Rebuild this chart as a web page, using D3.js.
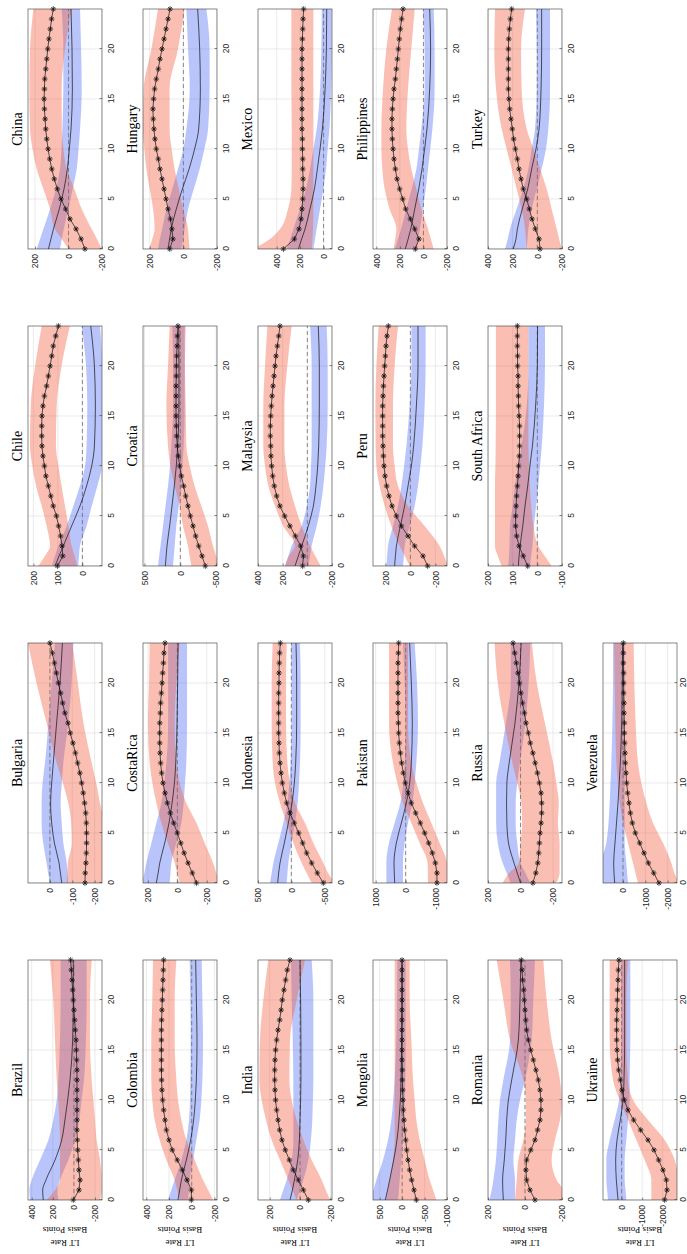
<!DOCTYPE html>
<html><head><meta charset="utf-8">
<script src="https://cdn.jsdelivr.net/npm/d3@7"></script>
<style>body{margin:0;background:#fff}svg{display:block}</style>
</head><body>
<script>
const countries = ["Brazil","Bulgaria","Chile","China","Colombia","CostaRica","Croatia","Hungary","India","Indonesia","Malaysia","Mexico","Mongolia","Pakistan","Peru","Philippines","Romania","Russia","South Africa","Turkey","Ukraine","Venezuela"];
const horizon = d3.range(0, 25);
const bandT = [0,1,2,4,6,8,10,12,16,20,24];
const xTicks = [0,5,10,15,20];
const yDomains = [[-266,435],[-233,98],[-80,222],[-200,242],[-223,429],[-270,234],[-512,521],[-200,240],[-211,277],[-610,500],[-200,400],[-72,560],[-1000,650],[-1378,1089],[-293,299],[-200,428],[-200,200],[-255,200],[-100,200],[-200,400],[-2700,910],[-2418,895]];
const yTicks = [[-200,0,200,400],[-200,-100,0],[0,100,200],[-200,0,200],[-200,0,200,400],[-200,0,200],[-500,0,500],[-200,0,200],[-200,0,200],[-500,0,500],[-200,0,200,400],[0,200,400],[-1000,-500,0,500],[-1000,0,1000],[-200,0,200],[-200,0,200,400],[-200,0,200],[-200,0,200],[-100,0,100,200],[-200,0,200,400],[-2000,-1000,0],[-2000,-1000,0]];

const starLine = [
[6,-48,-58,-48,-42,-36,-32,-29,-29,-29,-29,-29,-29,-29,-26,-23,-20,-13,-7,0,6,12,18,25,31],
[-157,-158,-161,-163,-164,-164,-163,-160,-155,-149,-142,-134,-124,-114,-103,-91,-81,-67,-57,-48,-38,-29,-20,-11,0],
[102,80,83,89,97,106,119,129,139,149,155,161,165,166,166,165,161,155,146,139,132,125,119,109,98],
[-98,-75,-45,-9,17,45,67,85,100,112,122,130,136,140,144,146,144,142,136,130,124,117,109,101,91],
[3,3,41,82,127,171,200,223,235,247,256,262,265,267,267,267,267,267,265,262,259,256,253,250,247],
[-130,-102,-73,-46,-23,0,25,48,68,84,98,107,114,118,120,120,120,116,114,109,104,100,95,91,84],
[-349,-303,-256,-214,-177,-140,-107,-75,-47,-14,9,28,42,51,56,60,60,60,60,56,56,51,46,42,33],
[81,62,68,77,91,103,115,127,139,149,161,169,175,179,181,177,171,161,149,139,127,115,103,91,79],
[-55,-22,11,44,70,97,119,134,145,154,161,165,167,167,165,161,154,145,134,125,117,106,95,84,66],
[-480,-390,-305,-230,-170,-110,-45,20,70,105,135,155,170,180,185,190,190,190,190,190,185,185,180,175,165],
[38,32,54,97,141,184,222,249,268,281,289,295,297,300,300,297,292,286,278,270,262,254,243,232,222],
[343,249,210,192,184,178,175,175,178,178,181,181,184,184,184,184,184,184,184,184,184,181,178,175,170],
[-317,-264,-212,-168,-131,-101,-79,-56,-41,-26,-19,-12,-4,-4,3,3,3,3,3,3,3,3,3,3,3],
[-1044,-1044,-989,-889,-767,-633,-489,-333,-189,-78,11,78,133,178,211,233,244,256,256,256,256,256,256,244,233],
[-138,-101,-34,19,72,112,147,171,190,203,211,216,219,222,222,222,222,219,216,211,206,200,195,187,176],
[69,38,74,111,151,176,202,224,238,250,258,264,267,267,264,258,250,238,230,221,213,205,196,185,173],
[-54,-27,-9,-5,-9,-31,-54,-68,-81,-86,-86,-81,-72,-59,-45,-31,-18,-9,-4,0,4,7,13,16,20],
[-76,-94,-106,-112,-116,-120,-126,-130,-130,-126,-116,-104,-90,-76,-60,-48,-34,-24,-12,-2,6,16,26,36,46],
[39,57,74,84,88,88,86,84,81,78,76,73,72,72,72,74,76,77,78,78,80,80,81,81,81],
[-22,-14,16,43,65,86,114,132,149,162,178,192,203,214,224,230,235,235,235,235,235,232,227,219,208],
[-2098,-2212,-2180,-2017,-1805,-1578,-1285,-927,-586,-310,-131,-17,65,146,195,227,243,243,243,227,211,195,178,162,130],
[-1612,-1374,-1135,-941,-747,-553,-418,-329,-269,-209,-165,-135,-105,-90,-75,-60,-60,-45,-45,-30,-30,-30,-15,-15,-15]
];

const redHi = [
[258,179,132,132,132,138,148,163,179,195,227],
[-75,-77,-80,-98,-95,-82,-58,-30,15,60,98],
[180,153,132,146,166,189,204,214,211,193,166],
[1,40,81,110,150,190,215,230,234,230,210],
[106,128,150,223,282,326,347,356,356,347,341],
[-16,1,18,64,109,143,170,189,200,193,189],
[-154,-130,-107,-37,9,79,139,172,195,172,149],
[204,185,171,180,200,220,232,240,236,190,151],
[22,50,77,132,187,224,253,268,264,242,209],
[-305,-230,-155,-30,70,170,245,280,295,295,280],
[181,150,100,195,262,316,343,357,357,343,324],
[600,457,372,304,275,272,272,272,275,275,275],
[353,315,278,204,167,167,167,167,167,167,167],
[-744,-740,-730,-467,-189,89,278,422,556,556,556],
[6,45,86,152,206,246,272,278,280,272,254],
[253,240,230,287,329,349,357,357,343,315,267],
[54,50,45,36,9,-5,-5,9,81,117,153],
[110,70,10,0,-10,-5,20,50,100,140,160],
[145,160,172,172,172,172,170,169,168,168,168],
[86,93,100,127,168,208,249,289,335,349,343],
[-1448,-1448,-1448,-1122,-716,-310,97,422,585,585,585],
[-672,-560,-448,-224,0,149,224,298,343,373,403]
];
const redLo = [
[-247,-263,-263,-247,-215,-200,-184,-168,-152,-152,-168],
[-240,-240,-240,-240,-240,-224,-207,-187,-150,-125,-100],
[21,32,44,57,71,85,98,108,105,85,51],
[-198,-170,-138,-79,-35,11,30,40,41,21,-19],
[-188,-145,-100,-26,47,91,121,135,150,150,135],
[-280,-265,-243,-186,-130,-61,-16,7,18,7,-16],
[-540,-500,-456,-386,-293,-200,-130,-84,-75,-65,-75],
[-37,-32,-28,2,27,52,70,82,82,32,-8],
[-198,-170,-143,-77,-22,22,55,70,66,22,-33],
[-650,-550,-480,-330,-205,-55,20,60,80,80,70],
[-108,-65,-22,46,100,146,173,186,186,162,127],
[101,95,90,87,87,87,87,87,87,87,87],
[-763,-690,-614,-502,-391,-317,-279,-242,-205,-168,-168],
[-1400,-1400,-1380,-1133,-856,-578,-356,-189,-78,-78,-78],
[-300,-270,-234,-114,19,99,126,139,139,126,99],
[-87,-63,-39,18,60,103,131,145,131,103,74],
[-210,-205,-171,-144,-162,-189,-198,-189,-144,-117,-99],
[-220,-240,-240,-240,-230,-235,-220,-200,-150,-100,-70],
[-58,-30,-4,16,25,30,33,36,36,36,36],
[-197,-177,-157,-116,-76,-22,32,86,127,132,100],
[-2750,-2750,-2750,-2586,-2098,-1285,-553,-309,-228,-228,-309],
[-2500,-2300,-2165,-1792,-1344,-1045,-821,-672,-567,-508,-478]
];
const blueMid = [
[290,296,265,179,116,85,59,37,12,6,6],
[-53,-47,-41,-20,-8,-3,-8,-15,-30,-45,-56],
[112,95,78,44,10,-17,-38,-49,-53,-49,-34],
[120,105,90,55,27,7,-5,-15,-23,-21,-15],
[121,106,91,47,9,-17,-32,-41,-47,-41,-35],
[143,131,120,86,57,36,20,11,2,-2,-5],
[209,198,186,149,116,84,56,37,19,19,23],
[91,82,72,42,6,-34,-67,-91,-101,-97,-85],
[66,50,37,15,4,0,-4,-6,-6,-4,0],
[205,190,170,105,45,-10,-45,-65,-80,-80,-70],
[100,73,46,-8,-49,-70,-84,-92,-97,-97,-89],
[215,187,158,116,78,53,30,10,-13,-24,-27],
[375,325,278,189,115,70,40,25,11,3,3],
[367,380,389,311,144,-22,-133,-189,-222,-189,-133],
[126,120,112,80,46,19,-8,-26,-48,-61,-61],
[154,130,108,74,40,12,-10,-30,-53,-61,-53],
[117,120,121,112,104,99,90,72,36,27,23],
[0,20,40,74,84,86,84,70,34,10,-4],
[77,74,70,59,50,39,30,20,7,0,-1],
[195,173,162,122,78,46,11,-14,-30,-35,-35],
[178,220,260,292,227,65,-66,-114,-147,-147,-147],
[373,403,418,358,290,224,170,119,59,29,14]
];
const blueHi = [
[416,422,400,321,242,195,163,148,132,126,126],
[0,8,15,30,37,37,33,22,7,-8,-23],
[125,112,98,64,37,10,-11,-17,-20,-15,3],
[190,170,150,110,75,51,42,37,31,31,41],
[209,180,150,91,47,24,15,12,9,12,18],
[240,225,211,177,143,109,90,75,63,63,63],
[312,295,277,242,207,172,145,126,102,102,112],
[151,140,126,101,66,32,0,-18,-38,-28,-18],
[132,110,88,55,44,44,44,44,48,55,59],
[320,295,270,195,120,60,30,10,-5,-5,5],
[181,154,127,46,5,-22,-30,-35,-35,-35,-22],
[315,285,258,201,150,116,87,59,30,19,16],
[700,640,576,427,315,241,200,167,130,115,107],
[644,644,644,556,367,178,80,33,0,33,89],
[192,186,179,139,99,72,50,32,6,-8,-8],
[244,215,190,145,100,60,38,18,-10,-10,4],
[193,180,171,157,150,144,135,117,81,77,81],
[60,85,110,140,150,150,150,130,90,60,60],
[118,115,113,111,100,91,78,64,43,36,36],
[262,240,222,168,114,73,46,19,5,5,11],
[666,710,747,747,585,341,130,65,16,16,16],
[950,950,950,746,650,597,560,522,477,447,447]
];
const blueLo = [
[148,157,132,53,-10,-51,-73,-95,-114,-121,-121],
[-82,-78,-75,-60,-53,-48,-53,-60,-82,-97,-105],
[17,14,10,-17,-38,-61,-79,-80,-80,-80,-72],
[51,40,28,1,-25,-49,-60,-69,-79,-75,-69],
[32,25,18,-12,-41,-70,-85,-94,-100,-94,-88],
[52,47,41,7,-27,-43,-52,-61,-66,-66,-66],
[102,90,79,56,21,-14,-30,-47,-61,-61,-61],
[12,2,-8,-28,-62,-97,-125,-147,-156,-156,-137],
[22,0,-22,-55,-72,-81,-85,-88,-88,-88,-77],
[70,58,45,-5,-55,-95,-115,-130,-140,-140,-130],
[-8,-22,-35,-76,-108,-130,-145,-157,-165,-165,-157],
[87,73,59,30,2,-21,-35,-50,-64,-70,-70],
[92,72,55,18,-19,-41,-60,-71,-79,-79,-79],
[89,89,89,33,-78,-222,-300,-356,-411,-378,-300],
[59,52,46,6,-34,-61,-80,-96,-114,-122,-122],
[60,45,30,4,-20,-39,-58,-76,-95,-95,-87],
[54,54,54,63,54,45,27,0,-36,-45,-54],
[-60,-30,0,20,30,30,20,4,-30,-50,-60],
[30,25,20,14,5,-4,-11,-18,-27,-31,-31],
[86,80,73,46,5,-35,-70,-89,-103,-103,-103],
[-228,-190,-147,-147,-228,-309,-391,-391,-423,-423,-423],
[-224,-185,-149,-75,-75,-75,-75,-75,-75,-75,-75]
];

// ---------- drawing ----------
const W = 1254, H = 687;
const svg = d3.select("body").append("svg").attr("width", 687).attr("height", 1254);
const root = svg.append("g").attr("transform", `translate(0,${W}) rotate(-90)`);
const tickFont = "'Liberation Sans', Arial, sans-serif";
const serif = "'Liberation Serif', 'Times New Roman', serif";
const star = r => { const a = r * 0.7071; return `M${-r},0L${r},0M0,${-r}L0,${r}M${-a},${-a}L${a},${a}M${-a},${a}L${a},${-a}`; };

countries.forEach((name, i) => {
  const r = Math.floor(i / 4), c = i % 4;
  const X0 = 54 + 317 * c, X1 = X0 + 240;
  const Yt = 28 + 115 * r, Yb = Yt + 74;
  const x = d3.scaleLinear().domain([0, 24]).range([X0, X1]);
  const y = d3.scaleLinear().domain(yDomains[i]).range([Yb, Yt]);
  const g = root.append("g");
  const cid = "clip" + i;
  g.append("clipPath").attr("id", cid).append("rect")
    .attr("x", X0).attr("y", Yt).attr("width", X1 - X0).attr("height", Yb - Yt);
  const pg = g.append("g").attr("clip-path", `url(#${cid})`);
  // grid
  pg.selectAll(".gx").data(xTicks).join("line")
    .attr("x1", d => x(d)).attr("x2", d => x(d)).attr("y1", Yt).attr("y2", Yb)
    .attr("stroke", "#dcdcdc").attr("stroke-width", 0.6);
  pg.selectAll(".gy").data(yTicks[i]).join("line")
    .attr("x1", X0).attr("x2", X1).attr("y1", d => y(d)).attr("y2", d => y(d))
    .attr("stroke", "#dcdcdc").attr("stroke-width", 0.6);
  // bands
  const bandB = bandT.map((t, k) => ({ t, lo: blueLo[i][k], hi: blueHi[i][k], m: blueMid[i][k] }));
  const bandR = bandT.map((t, k) => ({ t, lo: redLo[i][k], hi: redHi[i][k] }));
  const area = d3.area().x(d => x(d.t)).y0(d => y(d.lo)).y1(d => y(d.hi)).curve(d3.curveMonotoneX);
  pg.append("path").attr("d", area(bandB)).attr("fill", "rgb(80,110,242)").attr("fill-opacity", 0.4);
  pg.append("path").attr("d", area(bandR)).attr("fill", "rgb(242,92,62)").attr("fill-opacity", 0.4);
  // zero line
  pg.append("line").attr("x1", X0).attr("x2", X1).attr("y1", y(0)).attr("y2", y(0))
    .attr("stroke", "#6e6e6e").attr("stroke-width", 0.8).attr("stroke-dasharray", "4,3");
  // blue median line
  pg.append("path").attr("d", d3.line().x(d => x(d.t)).y(d => y(d.m)).curve(d3.curveMonotoneX)(bandB))
    .attr("fill", "none").attr("stroke", "#111").attr("stroke-width", 0.7);
  // star line
  const pts = horizon.map((t, k) => ({ t, v: starLine[i][k] }));
  pg.append("path").attr("d", d3.line().x(d => x(d.t)).y(d => y(d.v))(pts))
    .attr("fill", "none").attr("stroke", "#111").attr("stroke-width", 0.7);
  g.selectAll(".mk").data(pts).join("path")
    .attr("transform", d => `translate(${x(d.t)},${y(d.v)})`)
    .attr("d", star(2.8)).attr("fill", "none").attr("stroke", "#111").attr("stroke-width", 0.8);
  // box
  g.append("rect").attr("x", X0).attr("y", Yt).attr("width", X1 - X0).attr("height", Yb - Yt)
    .attr("fill", "none").attr("stroke", "#3a3a3a").attr("stroke-width", 0.6);
  // axes
  const pad = (r === 5) ? 3 : 6;
  const ax = g.append("g").attr("transform", `translate(0,${Yb})`)
    .call(d3.axisBottom(x).tickValues(xTicks).tickSizeInner(-2.5).tickSizeOuter(0).tickPadding(pad));
  const ay = g.append("g").attr("transform", `translate(${X0},0)`)
    .call(d3.axisLeft(y).tickValues(yTicks[i]).tickFormat(d => String(d)).tickSizeInner(-2.5).tickSizeOuter(0).tickPadding(5));
  [ax, ay].forEach(a => {
    a.select(".domain").remove();
    a.selectAll(".tick line").attr("stroke", "#3a3a3a").attr("stroke-width", 0.6);
    a.selectAll("text").attr("fill", "#262626").style("font-family", tickFont).style("font-size", "8.5px");
  });
  // title
  g.append("text").attr("x", (X0 + X1) / 2).attr("y", Yt - 6.5).attr("text-anchor", "middle")
    .style("font-family", serif).style("font-size", "14px").attr("fill", "#000").text(name);
  // y label on the first column
  if (c === 0) {
    const ym = (Yt + Yb) / 2;
    g.append("text").attr("transform", `translate(14,${ym}) rotate(-90)`).attr("text-anchor", "middle")
      .style("font-family", serif).style("font-size", "9px").text("LT Rate");
    g.append("text").attr("transform", `translate(27,${ym}) rotate(-90)`).attr("text-anchor", "middle")
      .style("font-family", serif).style("font-size", "9px").text("Basis Points");
  }
});
</script>
</body></html>
